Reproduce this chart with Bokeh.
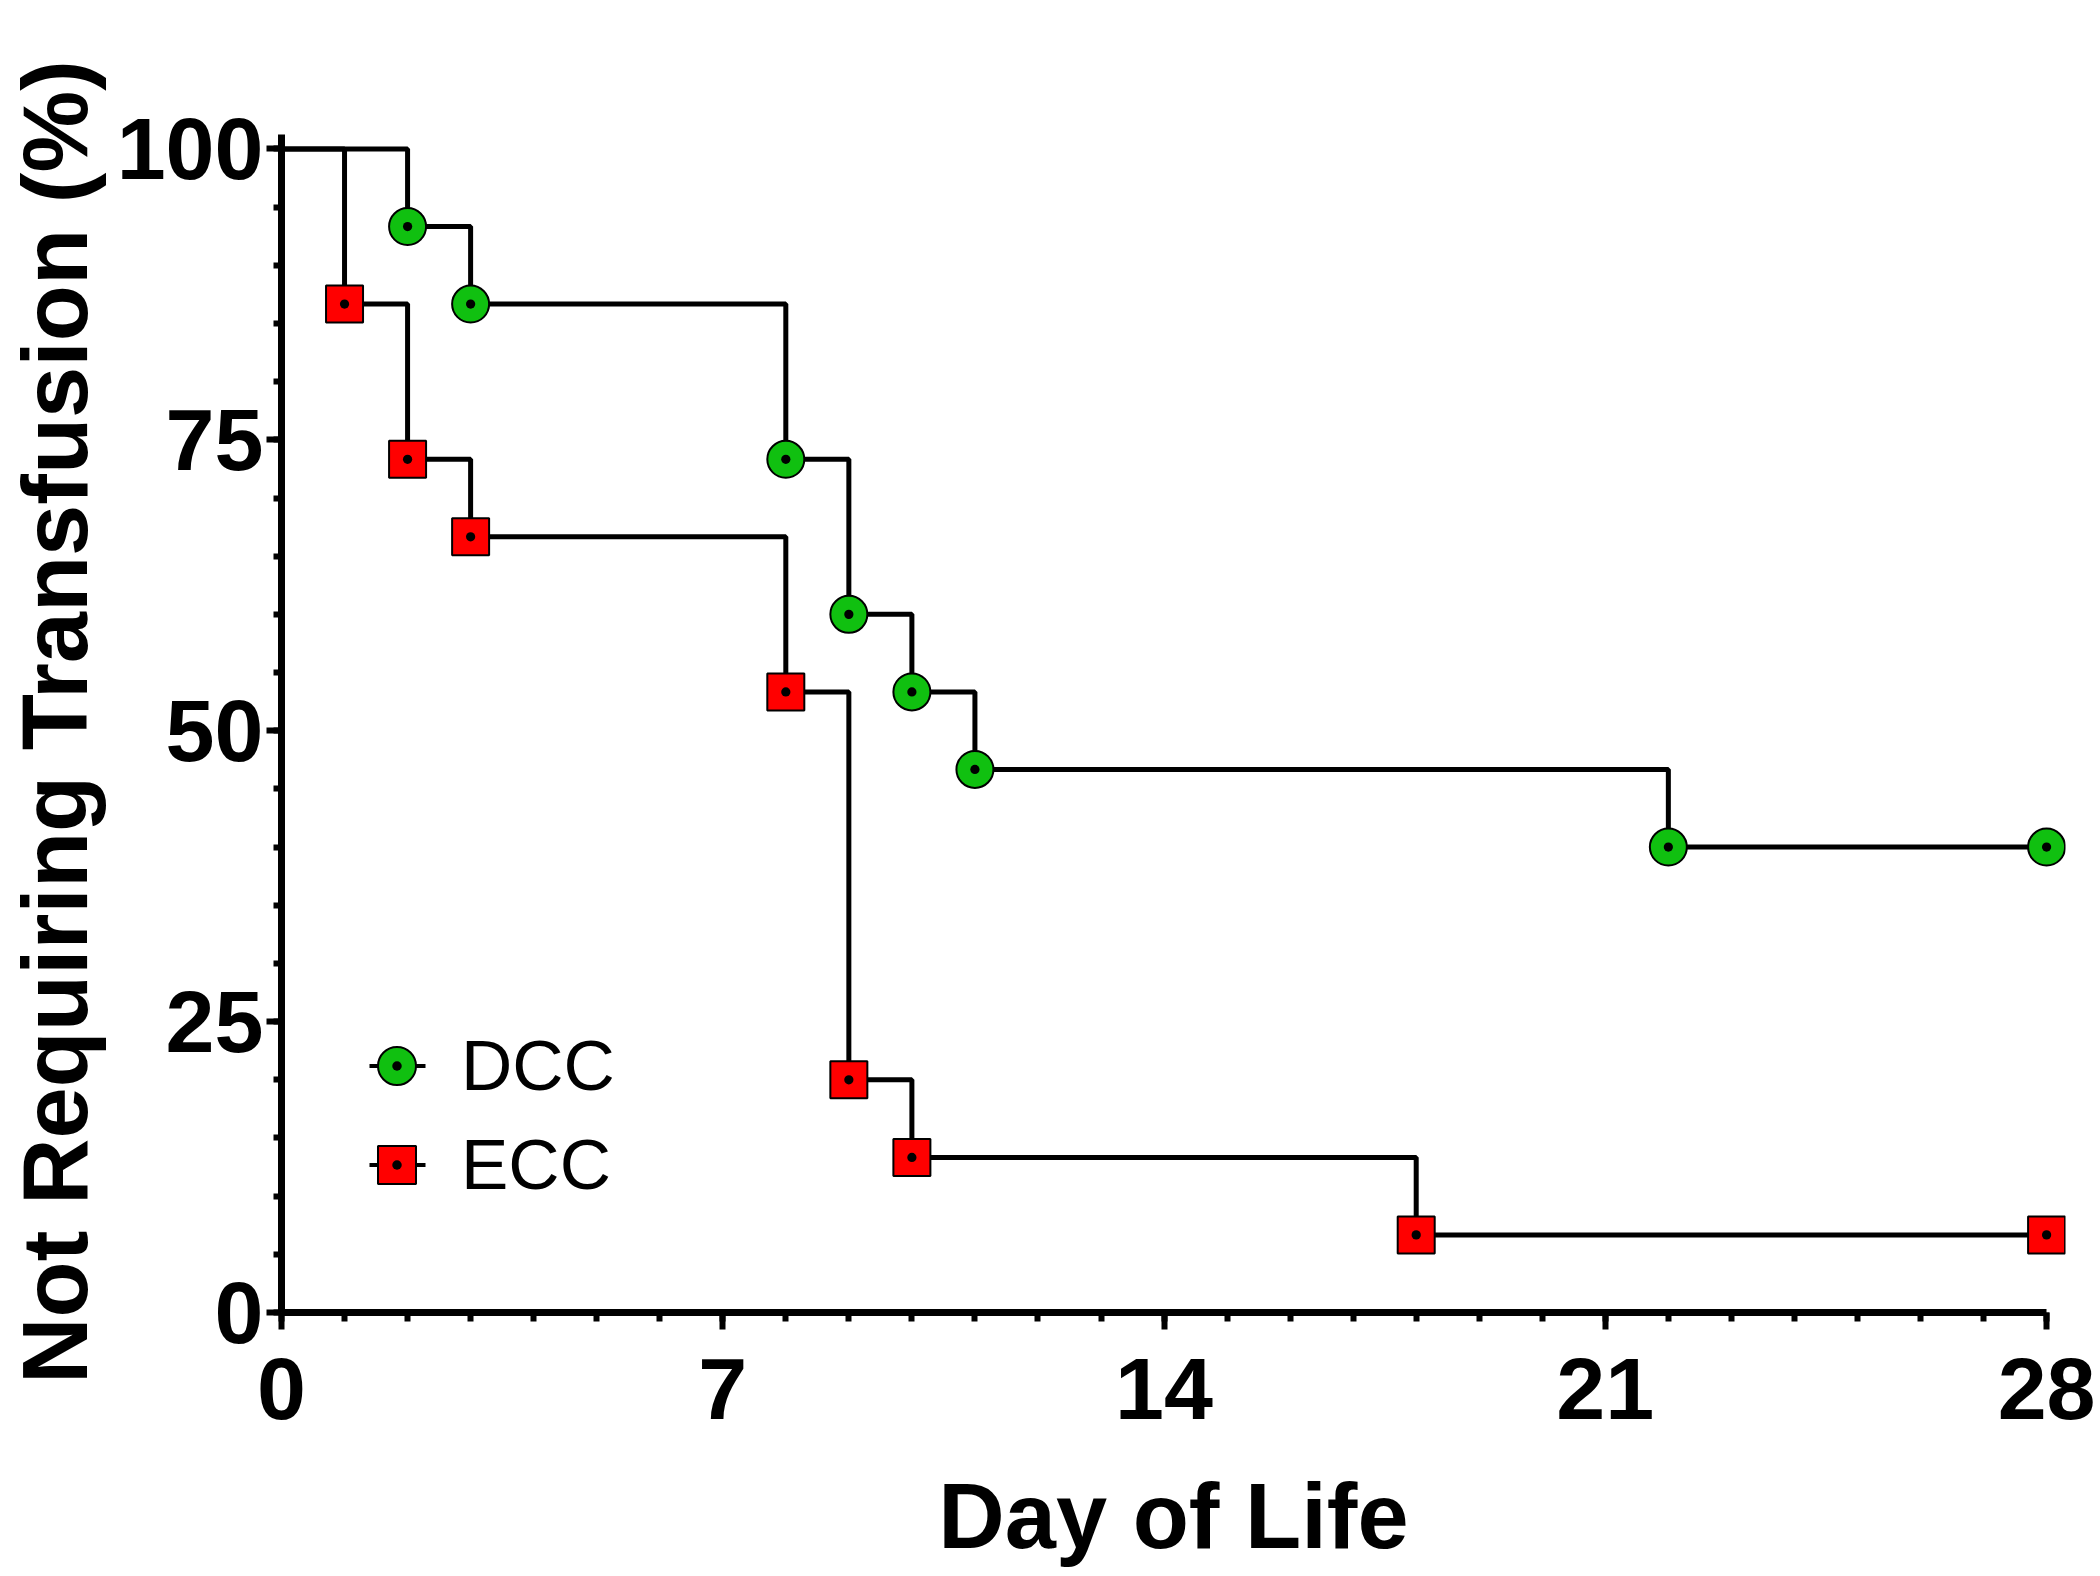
from bokeh.plotting import figure
from bokeh.models import Range1d, SingleIntervalTicker, Legend, LegendItem, ColumnDataSource
from bokeh.embed import file_html
from bokeh.resources import INLINE

# ---- data ----
dcc_day = [0, 2, 3, 8, 9, 10, 11, 22, 28]
dcc_pct = [100, 93.33, 86.67, 73.33, 60.0, 53.33, 46.67, 40.0, 40.0]
ecc_day = [0, 1, 2, 3, 8, 9, 10, 18, 28]
ecc_pct = [100, 86.67, 73.33, 66.67, 53.33, 20.0, 13.33, 6.67, 6.67]
series_names = ["DCC", "ECC"]
x_ticks_interval = 7
y_ticks_interval = 25
x_title = "Day of Life"
y_title = "Not Requiring Transfusion (%)"

GREEN = "#10c010"
RED = "#ff0000"
FONT = "Liberation Sans"
NAN = float("nan")

p = figure(frame_width=1784, frame_height=1181,
           x_range=Range1d(0, 28.3), y_range=Range1d(0, 101.5),
           output_backend="svg", toolbar_location=None,
           min_border_left=0, min_border_top=131, min_border_right=32, min_border_bottom=200)
p.outline_line_color = None
p.grid.visible = False
p.background_fill_color = "white"

# step lines
r_dcc_line = p.step(dcc_day, dcc_pct, mode="after", line_color="black", line_width=5)
r_ecc_line = p.step(ecc_day, ecc_pct, mode="after", line_color="black", line_width=5)

# markers (all points after day 0)
src_dcc = ColumnDataSource(dict(x=dcc_day[1:], y=dcc_pct[1:]))
src_ecc = ColumnDataSource(dict(x=ecc_day[1:], y=ecc_pct[1:]))
r_dcc_pts = p.scatter("x", "y", source=src_dcc, marker="circle_dot", size=37,
                      fill_color=GREEN, line_color="black", line_width=2)
r_ecc_pts = p.scatter("x", "y", source=src_ecc, marker="square_dot", size=37,
                      fill_color=RED, line_color="black", line_width=2)

# legend helper lines (short stubs through the marker; no visible data)
leg_dcc_line = p.line(x=[NAN], y=[NAN], line_color="black", line_width=4, line_dash="0 20 56 200")
leg_ecc_line = p.line(x=[NAN], y=[NAN], line_color="black", line_width=4, line_dash="0 20 56 200")

legend = Legend(items=[
    LegendItem(label=series_names[0], renderers=[leg_dcc_line, r_dcc_pts]),
    LegendItem(label=series_names[1], renderers=[leg_ecc_line, r_ecc_pts]),
], location=(68, 100), glyph_width=95, glyph_height=95, label_standoff=17,
   spacing=4, padding=0, margin=0, border_line_color=None, background_fill_alpha=0,
   label_text_font=FONT, label_text_font_size="71px", label_text_color="black")
p.add_layout(legend, "center")

# axes
for ax in (p.xaxis[0], p.yaxis[0]):
    ax.axis_line_width = 7
    ax.axis_line_color = "black"
    ax.major_tick_line_width = 6
    ax.minor_tick_line_width = 6
    ax.major_tick_in = 0
    ax.minor_tick_in = 0
    ax.major_label_text_font = FONT
    ax.major_label_text_font_style = "bold"
    ax.major_label_text_font_size = "88px"
    ax.major_label_text_color = "black"
    ax.axis_label_text_font = FONT
    ax.axis_label_text_font_style = "bold"
    ax.axis_label_text_font_size = "92px"
    ax.axis_label_text_color = "black"
    ax.axis_label_text_line_height = 0.95

xa = p.xaxis[0]
xa.ticker = SingleIntervalTicker(interval=x_ticks_interval, num_minor_ticks=7)
xa.bounds = (0, 28)
xa.major_tick_out = 17
xa.minor_tick_out = 9
xa.major_label_standoff = 28
xa.axis_label = x_title
xa.axis_label_standoff = 43

ya = p.yaxis[0]
ya.ticker = SingleIntervalTicker(interval=y_ticks_interval, num_minor_ticks=5)
ya.bounds = (0, 101.2)
ya.major_tick_out = 15
ya.minor_tick_out = 8
ya.major_label_standoff = 3
ya.axis_label = y_title
ya.axis_label_standoff = 8

open("out.html", "w").write(file_html(p, INLINE))
